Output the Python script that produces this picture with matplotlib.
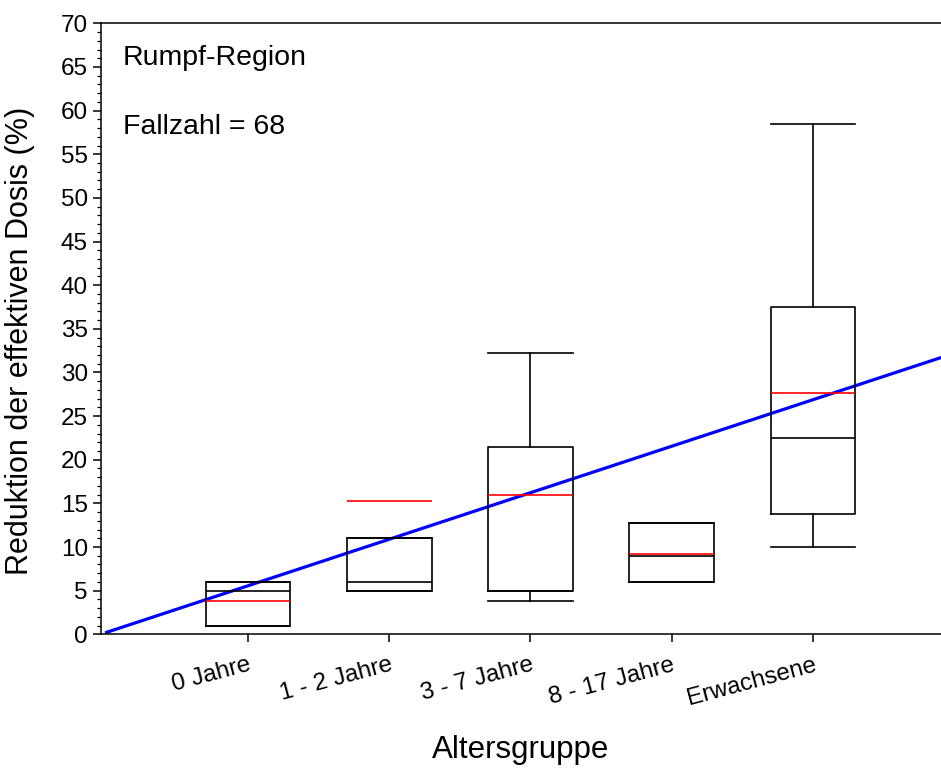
import matplotlib
matplotlib.use('Agg')
import matplotlib.pyplot as plt
from matplotlib.ticker import MultipleLocator

plt.rcParams['font.family'] = ['Liberation Sans', 'DejaVu Sans']

# data
groups = ['0 Jahre', '1 - 2 Jahre', '3 - 7 Jahre', '8 - 17 Jahre', 'Erwachsene']
whis_lo = [1.0, 5.0, 3.8, 6.0, 10.0]
q1 = [1.0, 5.0, 5.0, 6.0, 13.75]
med = [5.0, 6.0, 5.0, 9.0, 22.5]
q3 = [6.0, 11.0, 21.5, 12.75, 37.5]
whis_hi = [6.0, 11.0, 32.2, 12.75, 58.5]
means = [3.8, 15.3, 16.0, 9.2, 27.7]

# linear trend (blue line)
trend_slope = 5.33
trend_intercept = 0.23

n_cases = 68

fig = plt.figure(figsize=(9.41, 7.70), dpi=100)
ax = fig.add_axes([0.1073, 0.1762, 0.8927, 0.7935])

positions = list(range(1, len(groups) + 1))
stats = []
for i in range(len(groups)):
    stats.append(dict(whislo=whis_lo[i], q1=q1[i], med=med[i], q3=q3[i],
                      whishi=whis_hi[i], mean=means[i], fliers=[]))

lw = 1.2
ax.bxp(stats, positions=positions, widths=0.6, capwidths=0.6,
       showmeans=True, meanline=True, showfliers=False,
       boxprops=dict(color='black', linewidth=lw),
       whiskerprops=dict(color='black', linewidth=lw),
       capprops=dict(color='black', linewidth=lw),
       medianprops=dict(color='black', linewidth=lw),
       meanprops=dict(color='red', linewidth=lw, linestyle='-'))

xmin, xmax = -0.04, 5.906
ax.plot([0, xmax], [trend_intercept, trend_intercept + trend_slope * xmax],
        color='#0000ff', linewidth=2.3, zorder=1)

ax.set_xlim(xmin, xmax)
ax.set_ylim(0, 70)
ax.yaxis.set_major_locator(MultipleLocator(5))
ax.yaxis.set_minor_locator(MultipleLocator(1))
ax.set_xticks(positions)
ax.set_xticklabels(groups, rotation=15, ha='right', rotation_mode='anchor')

ax.tick_params(axis='both', which='major', labelsize=17.5, length=6, width=1.1,
               direction='out')
ax.tick_params(axis='y', which='minor', length=3, width=0.9, direction='out')
ax.tick_params(axis='x', which='major', pad=8)

for side in ['left', 'bottom', 'top']:
    ax.spines[side].set_linewidth(1.1)
ax.spines['right'].set_visible(False)

ax.set_ylabel('Reduktion der effektiven Dosis (%)', fontsize=22)
ax.yaxis.set_label_coords(-0.078, 0.481)
ax.set_xlabel('Altersgruppe', fontsize=22.5, labelpad=18)

ax.text(0.026, 0.943, 'Rumpf-Region', transform=ax.transAxes,
        fontsize=20.5, va='center', ha='left')
ax.text(0.026, 0.830, 'Fallzahl = %d' % n_cases, transform=ax.transAxes,
        fontsize=20.5, va='center', ha='left')

fig.savefig('out.png', dpi=100)
